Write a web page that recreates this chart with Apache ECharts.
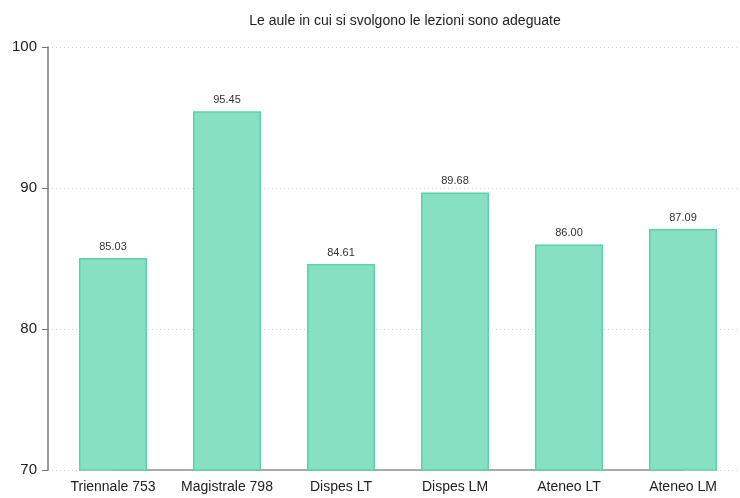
<!DOCTYPE html>
<html>
<head>
<meta charset="utf-8">
<script src="https://cdn.jsdelivr.net/npm/echarts@6/dist/echarts.min.js"></script>
<style>
  html, body { margin: 0; padding: 0; background: #fff; }
  #main { width: 740px; height: 498px; }
</style>
</head>
<body>
<div id="main"></div>
<script>
// dati
var categorie = ['Triennale 753', 'Magistrale 798', 'Dispes LT', 'Dispes LM', 'Ateneo LT', 'Ateneo LM'];
var valori = [85.03, 95.45, 84.61, 89.68, 86.00, 87.09];
var base = [70, 70, 70, 70, 70, 70];
var yTicks = [70, 80, 90, 100];

var font = 'Liberation Sans, Arial, sans-serif';
var chart = echarts.init(document.getElementById('main'));

chart.setOption({
  animation: false,
  title: {
    text: 'Le aule in cui si svolgono le lezioni sono adeguate',
    left: 400,
    top: 9,
    textAlign: 'center',
    textStyle: { fontFamily: font, fontSize: 14, fontWeight: 'normal', color: '#222' }
  },
  grid: [
    { left: 48, right: 2, top: 47, bottom: 28 },   // assi e griglia
    { left: 56, width: 687, top: 47, bottom: 28 }  // barre
  ],
  xAxis: [
    { gridIndex: 0, type: 'value', show: false, min: 0, max: 1 },
    {
      gridIndex: 1,
      type: 'category',
      data: categorie,
      axisLine: { show: false },
      axisTick: { show: false },
      axisLabel: { interval: 0, fontFamily: font, fontSize: 14, color: '#222', margin: 10 }
    }
  ],
  yAxis: [
    {
      gridIndex: 0,
      type: 'value',
      min: yTicks[0],
      max: yTicks[yTicks.length - 1],
      interval: 10,
      axisLine: { show: true, lineStyle: { color: '#777', width: 1.5 } },
      axisTick: { show: true, length: 6, lineStyle: { color: '#777' } },
      axisLabel: { fontFamily: font, fontSize: 15, color: '#222', margin: 11 },
      splitLine: { show: true, lineStyle: { color: '#d0d0d0', type: [1, 3] } }
    },
    { gridIndex: 1, type: 'value', show: false, min: 70, max: 100, splitLine: { show: false } }
  ],
  series: [
    {
      type: 'line',
      xAxisIndex: 1,
      yAxisIndex: 1,
      data: base,
      symbol: 'none',
      silent: true,
      z: 1,
      lineStyle: { color: '#aaa', width: 2 }
    },
    {
      type: 'bar',
      xAxisIndex: 1,
      yAxisIndex: 1,
      data: valori,
      barWidth: 68,
      z: 3,
      itemStyle: { color: '#86e0c1', borderColor: '#58d5a6', borderWidth: 1.5 },
      label: {
        show: true,
        position: 'top',
        distance: 6,
        fontFamily: font,
        fontSize: 11,
        color: '#333',
        formatter: function (p) { return p.value.toFixed(2); }
      }
    }
  ]
});
</script>
</body>
</html>
